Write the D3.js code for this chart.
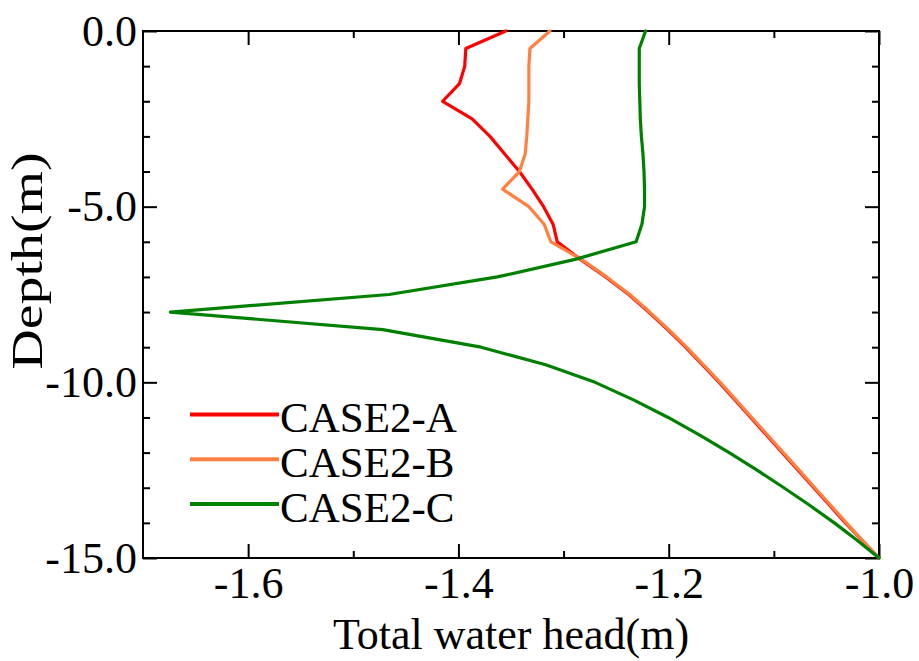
<!DOCTYPE html>
<html>
<head>
<meta charset="utf-8">
<script src="https://cdn.jsdelivr.net/npm/d3@7/dist/d3.min.js"></script>
<style>
  html, body { margin: 0; padding: 0; background: #fff; }
  svg { display: block; }
</style>
</head>
<body>
<svg id="chart" width="919" height="661"></svg>
<script>
// Depth of each sampled point (m)
const depths = [0, -0.5, -1, -1.5, -2, -2.5, -3, -3.5, -4, -4.5, -5, -5.5, -6, -6.5, -7, -7.5,
                -8, -8.5, -9, -9.5, -10, -10.5, -11, -11.5, -12, -12.5, -13, -13.5, -14, -14.5, -15];

// Total water head (m) for each case, one value per depth
const headA = [-1.355, -1.393, -1.394, -1.399, -1.415, -1.387, -1.370, -1.356, -1.342, -1.330,
               -1.319, -1.310, -1.306, -1.284, -1.260, -1.238, -1.219, -1.201, -1.184, -1.168,
               -1.152, -1.137, -1.122, -1.107, -1.092, -1.077, -1.062, -1.047, -1.032, -1.016, -1.000];
const headB = [-1.313, -1.332, -1.333, -1.333, -1.333, -1.334, -1.335, -1.3365, -1.342, -1.358,
               -1.333, -1.3185, -1.312, -1.283, -1.259, -1.237, -1.218, -1.200, -1.183, -1.167,
               -1.151, -1.136, -1.121, -1.106, -1.091, -1.076, -1.061, -1.046, -1.031, -1.016, -1.000];
const headC = [-1.222, -1.228, -1.228, -1.228, -1.2275, -1.227, -1.226, -1.2245, -1.2235, -1.223,
               -1.223, -1.2255, -1.231, -1.289, -1.363, -1.466, -1.674, -1.472, -1.3785, -1.317,
               -1.270, -1.2335, -1.2005, -1.1705, -1.1425, -1.116, -1.0905, -1.066, -1.0425, -1.0205, -1.000];

const seriesNames = ["CASE2-A", "CASE2-B", "CASE2-C"];
const seriesColors = ["#ff0000", "#ff8040", "#008000"];

// Axis ticks and labels
const xMajor = [-1.6, -1.4, -1.2, -1.0];
const xMinor = [-1.5, -1.3, -1.1];
const xTickLabels = ["-1.6", "-1.4", "-1.2", "-1.0"];
const yMajor = [0, -5, -10, -15];
const yMinor = [-1, -2, -3, -4, -6, -7, -8, -9, -11, -12, -13, -14];
const yTickLabels = ["0.0", "-5.0", "-10.0", "-15.0"];

const FONT = "'Liberation Serif', 'Times New Roman', serif";

const plot = { left: 143, right: 879, top: 31, bottom: 558 };
const svg = d3.select("#chart");

const x = d3.scaleLinear().domain([-1.7, -1.0]).range([plot.left, plot.right]);
const y = d3.scaleLinear().domain([-15, 0]).range([plot.bottom, plot.top]);

function styleAxis(g) {
  g.select(".domain").remove();
  g.selectAll(".tick line").attr("stroke", "#000").attr("stroke-width", 2);
  g.selectAll("text")
    .attr("font-family", FONT)
    .attr("font-size", 44)
    .attr("fill", "#000");
}

// Bottom axis: major with labels, minor without
svg.append("g").attr("transform", `translate(0,${plot.bottom})`)
  .call(d3.axisBottom(x).tickValues(xMajor).tickSize(-14).tickSizeOuter(0).tickPadding(9)
    .tickFormat((d, i) => xTickLabels[i]))
  .call(styleAxis);
svg.append("g").attr("transform", `translate(0,${plot.bottom})`)
  .call(d3.axisBottom(x).tickValues(xMinor).tickSize(-7).tickSizeOuter(0).tickFormat(""))
  .call(styleAxis);

// Top axis: ticks only
svg.append("g").attr("transform", `translate(0,${plot.top})`)
  .call(d3.axisTop(x).tickValues(xMajor).tickSize(-14).tickSizeOuter(0).tickFormat(""))
  .call(styleAxis);
svg.append("g").attr("transform", `translate(0,${plot.top})`)
  .call(d3.axisTop(x).tickValues(xMinor).tickSize(-7).tickSizeOuter(0).tickFormat(""))
  .call(styleAxis);

// Left axis: major with labels, minor without
svg.append("g").attr("transform", `translate(${plot.left},0)`)
  .call(d3.axisLeft(y).tickValues(yMajor).tickSize(-14).tickSizeOuter(0).tickPadding(6)
    .tickFormat((d, i) => yTickLabels[i]))
  .call(styleAxis);
svg.append("g").attr("transform", `translate(${plot.left},0)`)
  .call(d3.axisLeft(y).tickValues(yMinor).tickSize(-7).tickSizeOuter(0).tickFormat(""))
  .call(styleAxis);

// Right axis: ticks only
svg.append("g").attr("transform", `translate(${plot.right},0)`)
  .call(d3.axisRight(y).tickValues(yMajor).tickSize(-14).tickSizeOuter(0).tickFormat(""))
  .call(styleAxis);
svg.append("g").attr("transform", `translate(${plot.right},0)`)
  .call(d3.axisRight(y).tickValues(yMinor).tickSize(-7).tickSizeOuter(0).tickFormat(""))
  .call(styleAxis);

// Plot frame
svg.append("rect")
  .attr("x", plot.left).attr("y", plot.top)
  .attr("width", plot.right - plot.left).attr("height", plot.bottom - plot.top)
  .attr("fill", "none").attr("stroke", "#000").attr("stroke-width", 2);

// Water head profiles
const series = [headA, headB, headC].map((h, i) => ({
  name: seriesNames[i],
  color: seriesColors[i],
  points: depths.map((d, j) => ({ d: d, h: h[j] }))
}));

const line = d3.line().x(p => x(p.h)).y(p => y(p.d));

svg.append("g").selectAll("path")
  .data(series)
  .join("path")
  .attr("d", s => line(s.points))
  .attr("fill", "none")
  .attr("stroke", s => s.color)
  .attr("stroke-width", 3.2)
  .attr("stroke-linejoin", "round")
  .attr("stroke-linecap", "round");

// Legend
const legend = svg.append("g");
series.forEach((s, i) => {
  const ly = 414.5 + i * 44.8;
  legend.append("line")
    .attr("x1", 190).attr("x2", 279).attr("y1", ly).attr("y2", ly)
    .attr("stroke", s.color).attr("stroke-width", 4);
  legend.append("text")
    .attr("x", 280).attr("y", ly + 17.5)
    .attr("font-family", FONT).attr("font-size", 43)
    .attr("fill", "#000")
    .text(s.name);
});

// Axis titles
svg.append("text")
  .attr("x", (plot.left + plot.right) / 2).attr("y", 649)
  .attr("text-anchor", "middle")
  .attr("font-family", FONT).attr("font-size", 44).attr("fill", "#000")
  .text("Total water head(m)");

svg.append("text")
  .attr("transform", "translate(42,261) rotate(-90)")
  .attr("text-anchor", "middle")
  .attr("font-family", FONT).attr("font-size", 44).attr("fill", "#000")
  .attr("textLength", 217).attr("lengthAdjust", "spacingAndGlyphs")
  .text("Depth(m)");
</script>
</body>
</html>
